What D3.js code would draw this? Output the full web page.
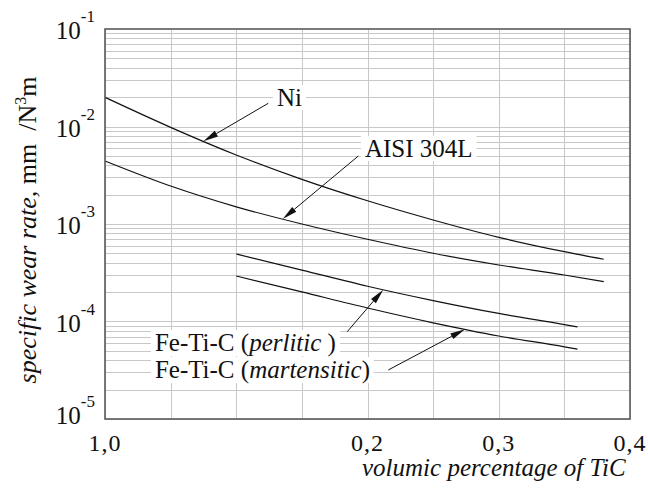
<!DOCTYPE html>
<html>
<head>
<meta charset="utf-8">
<script src="https://cdn.jsdelivr.net/npm/d3@7/dist/d3.min.js"></script>
<style>
  html, body { margin: 0; padding: 0; background: #fff; }
  svg { display: block; }
</style>
</head>
<body>
<svg id="chart" width="648" height="499" font-family="Liberation Serif, Tinos, DejaVu Serif, serif"></svg>
<script>
// Wear rate of TiC-reinforced coatings vs. TiC volume fraction
const niX        = [0, 0.05, 0.10, 0.15, 0.20, 0.25, 0.30, 0.35, 0.38];
const niRate     = [1.99e-2, 9.8e-3, 5.1e-3, 2.87e-3, 1.73e-3, 1.10e-3, 7.3e-4, 5.2e-4, 4.35e-4];
const aisiX      = [0, 0.05, 0.10, 0.15, 0.20, 0.25, 0.30, 0.35, 0.38];
const aisiRate   = [4.43e-3, 2.45e-3, 1.50e-3, 1.0e-3, 6.97e-4, 5.01e-4, 3.8e-4, 3.0e-4, 2.56e-4];
const feX        = [0.10, 0.15, 0.20, 0.25, 0.30, 0.35, 0.36];
const perliticRate    = [4.92e-4, 3.37e-4, 2.30e-4, 1.64e-4, 1.21e-4, 9.3e-5, 8.8e-5];
const martensiticRate = [2.93e-4, 2.01e-4, 1.375e-4, 9.7e-5, 7.1e-5, 5.5e-5, 5.2e-5];

const xTickValues = [0, 0.2, 0.3, 0.4];
const xTickLabels = ["1,0", "0,2", "0,3", "0,4"];
const yTickExponents = [-1, -2, -3, -4, -5];

// annotation texts, their anchor (data units) and the curve point the arrow hits
const labelNames   = ["Ni", "AISI 304L", "perlitic", "martensitic"];
const labelX       = [0.131, 0.198, 0.038, 0.038];
const labelY       = [1.62e-2, 4.87e-3, 4.98e-5, 2.63e-5];
const arrowTailX   = [0.1244, 0.193, 0.1845, 0.2158];
const arrowTailY   = [1.73e-2, 4.98e-3, 7.85e-5, 3.18e-5];
const arrowTipX    = [0.075, 0.1354, 0.212, 0.2743];

const svg = d3.select("#chart");
const m = { left: 105, right: 18, top: 29, bottom: 80 };
const W = 648, H = 499;
const ink = "#111";

const x = d3.scaleLinear().domain([0, 0.4]).range([m.left, W - m.right]);
const y = d3.scaleLog().domain([1e-5, 1e-1]).range([H - m.bottom, m.top]);

const series = [
  { xs: niX, ys: niRate },
  { xs: aisiX, ys: aisiRate },
  { xs: feX, ys: perliticRate },
  { xs: feX, ys: martensiticRate }
];

// grid
const grid = svg.append("g");
const yMinor = [];
for (let e = -5; e <= -2; e++) {
  for (let k = 1; k <= 9; k++) yMinor.push(k * Math.pow(10, e));
}
grid.selectAll("line.h").data(yMinor).join("line")
  .attr("x1", x(0)).attr("x2", x(0.4))
  .attr("y1", d => Math.round(y(d)) + 0.5).attr("y2", d => Math.round(y(d)) + 0.5)
  .attr("stroke", "#c8c8c8").attr("stroke-width", 1);
grid.selectAll("line.v").data(d3.range(0, 0.4001, 0.05)).join("line")
  .attr("y1", y(1e-5)).attr("y2", y(1e-1))
  .attr("x1", d => Math.round(x(d)) + 0.5).attr("x2", d => Math.round(x(d)) + 0.5)
  .attr("stroke", "#c8c8c8").attr("stroke-width", 1);

// curves
const line = d3.line().curve(d3.curveMonotoneX);
svg.append("g").selectAll("path").data(series).join("path")
  .attr("d", s => line(s.xs.map((xv, i) => [x(xv), y(s.ys[i])])))
  .attr("fill", "none").attr("stroke", ink).attr("stroke-width", 1.2);

// frame
svg.append("rect")
  .attr("x", x(0)).attr("y", y(1e-1))
  .attr("width", x(0.4) - x(0)).attr("height", y(1e-5) - y(1e-1))
  .attr("fill", "none").attr("stroke", "#5a5a5a").attr("stroke-width", 1.6);

// x ticks
svg.append("g").selectAll("text").data(xTickValues).join("text")
  .attr("x", d => x(d)).attr("y", H - m.bottom + 32)
  .attr("text-anchor", "middle").attr("font-size", 24).attr("letter-spacing", 1)
  .attr("fill", ink)
  .text((d, i) => xTickLabels[i]);

// y ticks: 10 with superscript exponent
const yt = svg.append("g").selectAll("text").data(yTickExponents).join("text")
  .attr("x", m.left - 10)
  .attr("y", d => Math.min(y(Math.pow(10, d)) + 10, H - m.bottom + 5))
  .attr("text-anchor", "end").attr("font-size", 25).attr("fill", ink);
yt.append("tspan").text("10");
yt.append("tspan").attr("dy", -17).attr("font-size", 17).text(d => String(d));

// axis titles
svg.append("text")
  .attr("x", 362).attr("y", 476)
  .attr("font-size", 25).attr("font-style", "italic").attr("fill", ink)
  .text("volumic percentage of TiC");

const yTitle = svg.append("text")
  .attr("transform", "translate(36,230) rotate(-90)")
  .attr("text-anchor", "middle").attr("font-size", 26).attr("fill", ink);
yTitle.append("tspan").attr("font-style", "italic").text("specific wear rate,");
yTitle.append("tspan").text("\u00a0mm\u00a0\u00a0/N");
yTitle.append("tspan").attr("dy", -10).attr("font-size", 16).text("3");
yTitle.append("tspan").attr("dy", 10).text("m");

// arrows
function curveAt(s, xv) {
  for (let i = 0; i < s.xs.length - 1; i++) {
    if (xv >= s.xs[i] && xv <= s.xs[i + 1]) {
      const t = (xv - s.xs[i]) / (s.xs[i + 1] - s.xs[i]);
      return Math.pow(10, Math.log10(s.ys[i]) * (1 - t) + Math.log10(s.ys[i + 1]) * t);
    }
  }
  return s.ys[s.ys.length - 1];
}
const arrows = svg.append("g");
series.forEach((s, i) => {
  const x0 = x(arrowTailX[i]), y0 = y(arrowTailY[i]);
  const x1 = x(arrowTipX[i]), y1 = y(curveAt(s, arrowTipX[i]));
  const dx = x1 - x0, dy = y1 - y0, len = Math.hypot(dx, dy);
  const ux = dx / len, uy = dy / len;
  const hl = 15, hw = 3.2;
  const bx = x1 - ux * hl, by = y1 - uy * hl;
  arrows.append("line")
    .attr("x1", x0).attr("y1", y0).attr("x2", bx).attr("y2", by)
    .attr("stroke", ink).attr("stroke-width", 1);
  arrows.append("path")
    .attr("d", `M${x1},${y1}L${bx - uy * hw},${by + ux * hw}L${bx + uy * hw},${by - ux * hw}Z`)
    .attr("fill", ink);
});

// labels with white backing
const labels = svg.append("g");
labelNames.forEach((name, i) => {
  const g = labels.append("g");
  const t = g.append("text")
    .attr("x", x(labelX[i])).attr("y", y(labelY[i]))
    .attr("font-size", 25).attr("fill", ink);
  if (name === "perlitic" || name === "martensitic") {
    t.append("tspan").text("Fe-Ti-C (");
    t.append("tspan").attr("font-style", "italic").text(name);
    t.append("tspan").text(name === "perlitic" ? "\u00a0)" : ")");
  } else {
    t.text(name);
  }
  const b = t.node().getBBox();
  g.insert("rect", "text")
    .attr("x", b.x - 4).attr("y", b.y + 1)
    .attr("width", b.width + 8).attr("height", b.height - 2)
    .attr("fill", "#fff");
});
</script>
</body>
</html>
